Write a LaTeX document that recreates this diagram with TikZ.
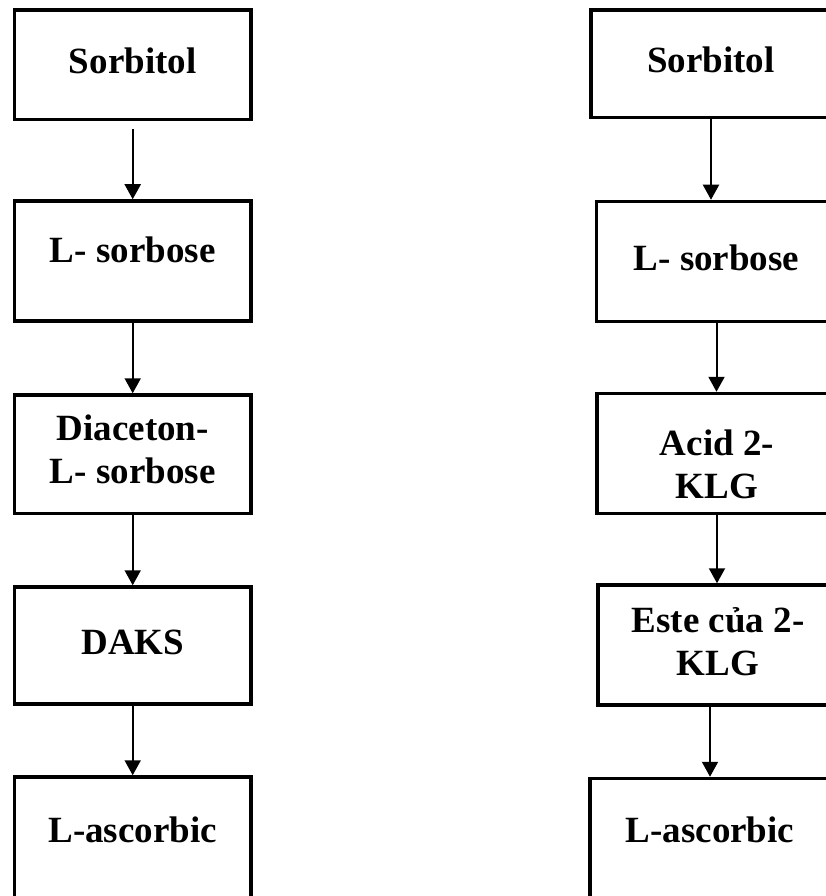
\documentclass[tikz,border=0pt]{standalone}
\usepackage{fontspec}
\setmainfont{Liberation Serif}
\usetikzlibrary{arrows.meta}

\begin{document}
\begin{tikzpicture}[x=1pt,y=-1pt,
  stage node/.style={rectangle,draw,line width=3.5pt,inner sep=0pt,align=center,
    text height=25pt,text depth=8pt,font=\fontsize{37}{43}\selectfont\bfseries},
  left node/.style={stage node,minimum width=236.5pt},
  right node/.style={stage node,minimum width=240pt},
  two lines/.style={text height=68pt},
  flow/.style={-{Triangle[length=15pt,width=16pt]},line width=2pt}]
  \useasboundingbox (0,0) rectangle (826,896);
  \clip (0,0) rectangle (826,896);

  % left route
  \node[left node,minimum height=109.5pt] (a1) at (132.7,64.75) {Sorbitol};
  \node[left node,minimum height=120pt,text depth=23pt] (a2) at (132.7,261) {L- sorbose};
  \node[left node,minimum height=118.5pt,two lines,text depth=10.5pt] (a3) at (132.7,454.25) {Diaceton-\\L- sorbose};
  \node[left node,minimum height=117pt] (a4) at (132.7,645.5) {DAKS};
  \node[left node,minimum height=122pt,text depth=17pt] (a5) at (132.7,838) {L-ascorbic};

  % right route
  \node[right node,minimum height=107.5pt] (b1) at (711,63.75) {Sorbitol};
  \node[right node,minimum height=120pt] (b2) at (716.5,261.5) {L- sorbose};
  \node[right node,minimum height=120pt,text height=89pt,text depth=0pt] (b3) at (717,453.5) {Acid 2-\\KLG};
  \node[right node,minimum height=120pt,two lines,text depth=8pt] (b4) at (718,645) {Este của 2-\\KLG};
  \node[right node,minimum height=122pt,text depth=20pt] (b5) at (710,839.5) {L-ascorbic};

  \draw[flow,shorten <=8pt] (a1) -- (a2);
  \draw[flow] (a2) -- (a3);
  \draw[flow] (a3) -- (a4);
  \draw[flow] (a4) -- (a5);

  \draw[flow] (b1.south) -- (b1.south |- b2.north);
  \draw[flow] (b2.south) -- (b2.south |- b3.north);
  \draw[flow] (b3.south) -- (b3.south |- b4.north);
  \draw[flow] (b5.north |- b4.south) -- (b5.north);
\end{tikzpicture}
\end{document}
